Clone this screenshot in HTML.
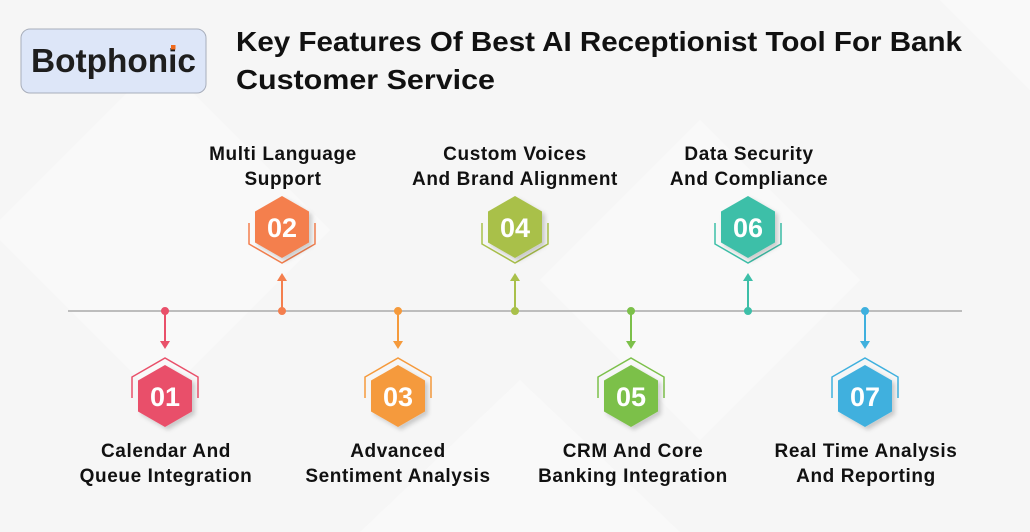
<!DOCTYPE html>
<html><head><meta charset="utf-8"><style>
html,body{margin:0;padding:0;width:1030px;height:532px;overflow:hidden;background:#f8f8f8}
svg{display:block}
text{font-family:"Liberation Sans",sans-serif;font-weight:bold}
</style></head><body>
<svg width="1030" height="532" viewBox="0 0 1030 532" xmlns="http://www.w3.org/2000/svg">
<defs>
<filter id="sh" x="-30%" y="-30%" width="160%" height="160%"><feDropShadow dx="3" dy="3" stdDeviation="2" flood-color="#000" flood-opacity="0.18"/></filter>
</defs>
<rect width="1030" height="532" fill="#f6f6f6"/>
<g fill="#f9f9f9">
<polygon points="160,60 330,230 160,400 -10,230"/>
<polygon points="700,120 860,280 700,440 540,280"/>
<polygon points="520,380 680,532 360,532"/>
<polygon points="940,0 1030,90 1030,0"/>
</g>
<rect x="21" y="29" width="185" height="64" rx="9" fill="#dde6f8" stroke="#a8aebb" stroke-width="1"/>
<text x="31" y="72" font-size="33" fill="#1e1e1e" textLength="165" lengthAdjust="spacingAndGlyphs">Botphonic</text>
<rect x="171" y="45" width="4.5" height="4.5" fill="#f06a1c"/>
<text x="236" y="51" font-size="28" fill="#111" textLength="726" lengthAdjust="spacingAndGlyphs">Key Features Of Best AI Receptionist Tool For Bank</text>
<text x="236" y="89" font-size="28" fill="#111" textLength="259" lengthAdjust="spacingAndGlyphs">Customer Service</text>
<line x1="68" y1="311" x2="962" y2="311" stroke="#bdbdbd" stroke-width="2"/>
<g font-size="19" fill="#111" text-anchor="middle" letter-spacing="0.6">
<text x="283" y="160">Multi Language</text><text x="283" y="185">Support</text>
<text x="515" y="160">Custom Voices</text><text x="515" y="185">And Brand Alignment</text>
<text x="749" y="160">Data Security</text><text x="749" y="185">And Compliance</text>
<text x="166" y="457">Calendar And</text><text x="166" y="482">Queue Integration</text>
<text x="398" y="457">Advanced</text><text x="398" y="482">Sentiment Analysis</text>
<text x="633" y="457">CRM And Core</text><text x="633" y="482">Banking Integration</text>
<text x="866" y="457">Real Time Analysis</text><text x="866" y="482">And Reporting</text>
</g>
<g>
<g stroke="#e9506a" fill="#e9506a"><circle cx="165" cy="311" r="3.5"/><line x1="165" y1="311" x2="165" y2="342" stroke-width="2"/><polygon points="160,341 170,341 165,349" stroke="none"/>
<polyline points="132,398 132,377 165,358 198,377 198,398" fill="none" stroke-width="1.5"/>
<polygon points="165,365 192,380.5 192,411.5 165,427 138,411.5 138,380.5" stroke="none" filter="url(#sh)"/></g>
<g stroke="#f59a3c" fill="#f59a3c"><circle cx="398" cy="311" r="3.5"/><line x1="398" y1="311" x2="398" y2="342" stroke-width="2"/><polygon points="393,341 403,341 398,349" stroke="none"/>
<polyline points="365,398 365,377 398,358 431,377 431,398" fill="none" stroke-width="1.5"/>
<polygon points="398,365 425,380.5 425,411.5 398,427 371,411.5 371,380.5" stroke="none" filter="url(#sh)"/></g>
<g stroke="#7cc04a" fill="#7cc04a"><circle cx="631" cy="311" r="3.5"/><line x1="631" y1="311" x2="631" y2="342" stroke-width="2"/><polygon points="626,341 636,341 631,349" stroke="none"/>
<polyline points="598,398 598,377 631,358 664,377 664,398" fill="none" stroke-width="1.5"/>
<polygon points="631,365 658,380.5 658,411.5 631,427 604,411.5 604,380.5" stroke="none" filter="url(#sh)"/></g>
<g stroke="#3fb0de" fill="#3fb0de"><circle cx="865" cy="311" r="3.5"/><line x1="865" y1="311" x2="865" y2="342" stroke-width="2"/><polygon points="860,341 870,341 865,349" stroke="none"/>
<polyline points="832,398 832,377 865,358 898,377 898,398" fill="none" stroke-width="1.5"/>
<polygon points="865,365 892,380.5 892,411.5 865,427 838,411.5 838,380.5" stroke="none" filter="url(#sh)"/></g>
</g>
<g>
<g stroke="#f47f4e" fill="#f47f4e"><circle cx="282" cy="311" r="3.5"/><line x1="282" y1="311" x2="282" y2="280" stroke-width="2"/><polygon points="277,281 287,281 282,273" stroke="none"/>
<polyline points="249,223 249,244 282,263 315,244 315,223" fill="none" stroke-width="1.5"/>
<polygon points="282,196 309,211.5 309,242.5 282,258 255,242.5 255,211.5" stroke="none" filter="url(#sh)"/></g>
<g stroke="#a9c04a" fill="#a9c04a"><circle cx="515" cy="311" r="3.5"/><line x1="515" y1="311" x2="515" y2="280" stroke-width="2"/><polygon points="510,281 520,281 515,273" stroke="none"/>
<polyline points="482,223 482,244 515,263 548,244 548,223" fill="none" stroke-width="1.5"/>
<polygon points="515,196 542,211.5 542,242.5 515,258 488,242.5 488,211.5" stroke="none" filter="url(#sh)"/></g>
<g stroke="#3dbfa8" fill="#3dbfa8"><circle cx="748" cy="311" r="3.5"/><line x1="748" y1="311" x2="748" y2="280" stroke-width="2"/><polygon points="743,281 753,281 748,273" stroke="none"/>
<polyline points="715,223 715,244 748,263 781,244 781,223" fill="none" stroke-width="1.5"/>
<polygon points="748,196 775,211.5 775,242.5 748,258 721,242.5 721,211.5" stroke="none" filter="url(#sh)"/></g>
</g>
<g font-size="27" fill="#fff" text-anchor="middle">
<text x="165" y="406">01</text><text x="398" y="406">03</text><text x="631" y="406">05</text><text x="865" y="406">07</text>
<text x="282" y="237">02</text><text x="515" y="237">04</text><text x="748" y="237">06</text>
</g>
</svg>
</body></html>
